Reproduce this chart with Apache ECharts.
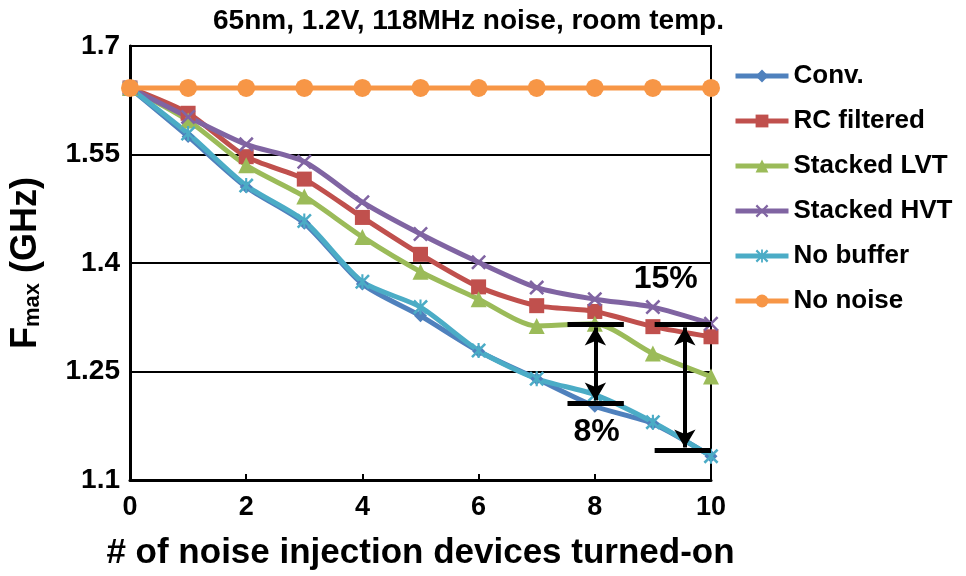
<!DOCTYPE html>
<html>
<head>
<meta charset="utf-8">
<script src="https://cdn.jsdelivr.net/npm/echarts@6/dist/echarts.min.js"></script>
<style>
  html, body { margin: 0; padding: 0; background: #fff; }
  #chart { width: 966px; height: 576px; }
</style>
</head>
<body>
<div id="chart"></div>
<script>
// Number of noise injection devices turned on
const devices = [0, 1, 2, 3, 4, 5, 6, 7, 8, 9, 10];

// Fmax (GHz) per configuration
const conv       = [1.642, 1.575, 1.505, 1.455, 1.371, 1.327, 1.278, 1.240, 1.202, 1.178, 1.133];
const rcFiltered = [1.642, 1.607, 1.547, 1.516, 1.463, 1.412, 1.367, 1.341, 1.333, 1.312, 1.298];
const stackedLVT = [1.642, 1.597, 1.535, 1.492, 1.436, 1.388, 1.350, 1.313, 1.316, 1.275, 1.243];
const stackedHVT = [1.642, 1.602, 1.564, 1.540, 1.484, 1.440, 1.401, 1.366, 1.350, 1.339, 1.316];
const noBuffer   = [1.642, 1.579, 1.507, 1.458, 1.374, 1.339, 1.279, 1.240, 1.218, 1.180, 1.133];
const noNoise    = [1.642, 1.642, 1.642, 1.642, 1.642, 1.642, 1.642, 1.642, 1.642, 1.642, 1.642];

// Axis tick values
const yTicks = [1.1, 1.25, 1.4, 1.55, 1.7];
const xTicks = [0, 2, 4, 6, 8, 10];

// Degradation annotations: bar x-extent, top/bottom levels, arrow x, label position
const gap8  = { x: [7.53, 8.50], top: 1.315, bottom: 1.206, arrowX: 8.01, label: '8%',  labelPos: [8.03, 1.166] };
const gap15 = { x: [9.03, 10.0], top: 1.315, bottom: 1.141, arrowX: 9.55, label: '15%', labelPos: [9.22, 1.377] };

const FONT = '"Liberation Sans", Arial, sans-serif';

const xShape = 'path://M0,1.2 L1.2,0 L5,3.8 L8.8,0 L10,1.2 L6.2,5 L10,8.8 L8.8,10 L5,6.2 L1.2,10 L0,8.8 L3.8,5 Z';
const starShape = 'path://M0,1.2 L1.2,0 L5,3.8 L8.8,0 L10,1.2 L6.2,5 L10,8.8 L8.8,10 L5,6.2 L1.2,10 L0,8.8 L3.8,5 Z M4.3,0 L5.7,0 L5.7,10 L4.3,10 Z';

function pairs(ys) { return devices.map((x, i) => [x, ys[i]]); }

function lineSeries(name, ys, color, symbol, size) {
  return {
    name: name,
    type: 'line',
    data: pairs(ys),
    smooth: 0.25,
    symbol: symbol,
    symbolSize: size,
    lineStyle: { color: color, width: 5 },
    itemStyle: { color: color },
    emphasis: { disabled: true }
  };
}

function bars(g) {
  return [
    [{ coord: [g.x[0], g.top] }, { coord: [g.x[1], g.top] }],
    [{ coord: [g.x[0], g.bottom] }, { coord: [g.x[1], g.bottom] }]
  ];
}
function arrow(g) {
  return [[{ coord: [g.arrowX, g.top - 0.004] }, { coord: [g.arrowX, g.bottom + 0.004] }]];
}

const chart = echarts.init(document.getElementById('chart'));
chart.setOption({
  animation: false,
  backgroundColor: '#fff',
  title: {
    text: '65nm, 1.2V, 118MHz noise, room temp.',
    left: 208, top: 2,
    textStyle: { fontFamily: FONT, fontWeight: 'bold', fontSize: 28, color: '#000' }
  },
  grid: {
    left: 127, right: 255, top: 46, bottom: 94,
    show: true, borderColor: '#000', borderWidth: 2
  },
  legend: {
    orient: 'vertical',
    left: 728, top: 56,
    itemWidth: 53, itemHeight: 16, itemGap: 15,
    lineStyle: { width: 5 },
    data: ['Conv.', 'RC filtered', 'Stacked LVT', 'Stacked HVT', 'No buffer', 'No noise'],
    textStyle: { fontFamily: FONT, fontWeight: 'bold', fontSize: 26, lineHeight: 30, color: '#000' }
  },
  xAxis: {
    type: 'value', min: xTicks[0], max: xTicks[xTicks.length - 1], interval: 2,
    name: '# of noise injection devices turned-on',
    nameLocation: 'middle', nameGap: 56,
    nameTextStyle: { fontFamily: FONT, fontWeight: 'bold', fontSize: 35, color: '#000' },
    axisLine: { lineStyle: { color: '#000', width: 3 } },
    axisTick: { inside: true, length: 6, lineStyle: { color: '#000', width: 2 } },
    axisLabel: { fontFamily: FONT, fontWeight: 'bold', fontSize: 27, color: '#000', margin: 14 },
    splitLine: { show: false }
  },
  yAxis: {
    type: 'value', min: yTicks[0], max: yTicks[yTicks.length - 1], interval: 0.15,
    name: '{a|F}{b|max}{a| (GHz)}',
    nameLocation: 'middle', nameGap: 84, nameRotate: 90,
    nameTextStyle: {
      rich: {
        a: { fontFamily: FONT, fontWeight: 'bold', fontSize: 36, color: '#000', lineHeight: 40 },
        b: { fontFamily: FONT, fontWeight: 'bold', fontSize: 22, color: '#000', lineHeight: 40, padding: [14, 0, 0, 0] }
      }
    },
    axisLine: { show: true, lineStyle: { color: '#000', width: 3 } },
    axisTick: { show: false },
    axisLabel: {
      fontFamily: FONT, fontWeight: 'bold', fontSize: 28, color: '#000', margin: 10,
      formatter: v => String(+v.toFixed(2))
    },
    splitLine: { show: true, lineStyle: { color: '#000', width: 2 } }
  },
  series: [
    lineSeries('Conv.', conv, '#4F81BD', 'diamond', 13),
    lineSeries('RC filtered', rcFiltered, '#C0504D', 'rect', 15),
    lineSeries('Stacked LVT', stackedLVT, '#9BBB59', 'triangle', 16),
    lineSeries('Stacked HVT', stackedHVT, '#8064A2', xShape, 15),
    lineSeries('No buffer', noBuffer, '#4BACC6', starShape, 15),
    lineSeries('No noise', noNoise, '#F79646', 'circle', 18),
    {
      name: 'levels', type: 'line', data: [], silent: true, z: 5,
      markLine: {
        silent: true, symbol: 'none', animation: false,
        label: { show: false },
        lineStyle: { color: '#000', width: 5, type: 'solid' },
        data: bars(gap8).concat(bars(gap15))
      }
    },
    {
      name: 'arrows', type: 'line', data: [], silent: true, z: 5,
      markLine: {
        silent: true, symbol: ['arrow', 'arrow'], symbolSize: [16, 18], animation: false,
        label: { show: false },
        lineStyle: { color: '#000', width: 4, type: 'solid' },
        data: arrow(gap8).concat(arrow(gap15))
      }
    },
    {
      name: 'labels', type: 'scatter', silent: true, symbolSize: 0, z: 6,
      itemStyle: { opacity: 1 },
      data: [
        { value: gap15.labelPos, label: { formatter: gap15.label } },
        { value: gap8.labelPos, label: { formatter: gap8.label } }
      ],
      label: {
        show: true, position: 'inside',
        fontFamily: FONT, fontWeight: 'bold', fontSize: 32, color: '#000', opacity: 1
      }
    }
  ]
});
</script>
</body>
</html>
